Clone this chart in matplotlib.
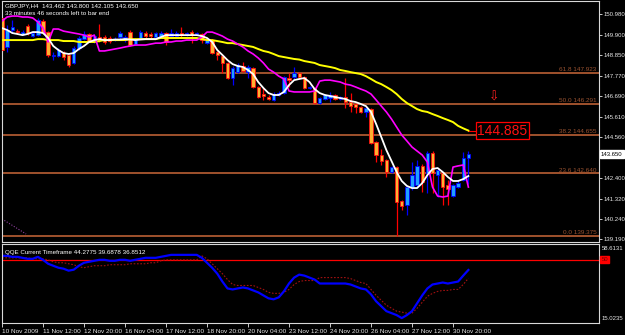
import numpy as np
import matplotlib.pyplot as plt
import matplotlib.font_manager as fm
from matplotlib.transforms import blended_transform_factory

# small MT4-like font, narrow if we have it
names = {f.name for f in fm.fontManager.ttflist}
FONT = 'Liberation Sans Narrow' if 'Liberation Sans Narrow' in names else 'Liberation Sans'
plt.rcParams['font.family'] = FONT
SMALL = 4.3

# ---- data (GBPJPY H4) ----
open_ = [150.79, 149.27, 150.16, 150.10, 149.95, 150.37, 149.84, 149.89, 150.63, 150.05,
         148.79, 148.79, 148.95, 148.85, 148.43, 149.21, 149.68, 149.95, 149.58, 149.79,
         149.79, 149.74, 149.63, 149.79, 149.63, 150.05, 149.42, 149.74, 150.00, 149.95,
         149.79, 149.84, 150.00, 149.84, 149.84, 150.00, 149.95, 150.05, 149.95, 149.95,
         149.47, 149.63, 149.00, 148.79, 148.43, 147.64, 147.95, 148.27, 147.95, 148.16,
         147.17, 146.80, 146.64, 146.49, 146.75, 146.85, 147.64, 147.69, 147.90, 147.69,
         147.12, 147.12, 146.33, 146.54, 146.59, 146.75, 146.54, 146.64, 146.38, 146.28,
         146.12, 145.86, 146.01, 144.28, 143.60, 143.34, 142.71, 142.97, 141.19, 140.98,
         141.92, 142.03, 143.03, 142.66, 143.71, 142.55, 142.66, 142.03, 141.45, 141.92,
         142.29, 143.462]
high = [150.84, 150.42, 150.68, 150.21, 150.16, 150.47, 150.10, 150.79, 150.73, 150.10,
        149.00, 149.21, 149.06, 148.90, 149.32, 149.84, 150.10, 150.00, 149.95, 150.47,
        149.89, 149.84, 149.79, 150.10, 149.89, 150.16, 149.74, 150.16, 150.10, 150.05,
        150.05, 150.10, 150.05, 150.21, 150.10, 150.31, 150.05, 150.16, 150.05, 150.00,
        149.74, 149.68, 149.06, 148.85, 148.48, 148.27, 148.43, 148.48, 148.32, 148.22,
        147.22, 147.12, 146.75, 146.91, 146.96, 147.74, 147.90, 148.22, 147.95, 147.74,
        147.22, 147.17, 146.64, 146.80, 146.91, 146.80, 146.70, 147.64, 146.85, 146.33,
        146.17, 146.12, 146.07, 144.34, 143.92, 143.39, 143.03, 143.03, 141.24, 141.98,
        143.23, 143.34, 143.13, 143.81, 143.81, 142.92, 142.71, 142.29, 142.08, 142.29,
        143.76, 143.800]
low = [149.00, 149.00, 150.00, 149.95, 149.89, 149.89, 149.79, 149.84, 150.00, 148.74,
       148.58, 148.74, 148.58, 148.22, 148.37, 149.11, 149.63, 149.53, 149.47, 149.53,
       149.42, 149.47, 149.58, 149.68, 149.53, 149.32, 149.37, 149.68, 149.74, 149.68,
       149.74, 149.79, 149.37, 149.79, 149.79, 149.79, 149.84, 149.47, 149.89, 149.47,
       149.42, 148.90, 148.58, 147.90, 147.59, 147.27, 147.90, 147.95, 147.64, 147.12,
       146.59, 146.49, 146.49, 146.43, 146.70, 146.80, 147.17, 147.59, 147.64, 147.06,
       147.06, 146.28, 146.28, 146.49, 146.38, 146.49, 146.49, 146.07, 145.86, 145.80,
       145.80, 145.60, 144.18, 143.23, 143.08, 142.45, 142.66, 139.375, 140.72, 140.45,
       141.77, 141.92, 141.66, 141.61, 141.61, 141.40, 140.98, 140.98, 141.40, 141.87,
       142.24, 142.105]
close = [149.11, 150.16, 150.31, 150.05, 150.05, 150.00, 150.00, 150.68, 150.05, 148.85,
         148.85, 149.11, 148.74, 148.32, 149.21, 149.74, 149.95, 149.58, 149.84, 149.63,
         149.53, 149.58, 149.68, 150.00, 149.79, 149.37, 149.63, 150.05, 149.84, 149.84,
         150.00, 150.00, 149.53, 150.00, 150.00, 149.89, 150.00, 149.89, 150.00, 149.63,
         149.68, 148.95, 148.85, 148.43, 147.64, 148.16, 148.32, 148.01, 148.22, 147.17,
         146.64, 146.70, 146.54, 146.80, 146.85, 147.69, 147.53, 147.90, 147.69, 147.12,
         147.17, 146.33, 146.59, 146.75, 146.75, 146.54, 146.64, 146.38, 146.17, 146.12,
         145.86, 146.07, 144.23, 143.60, 143.29, 142.71, 142.97, 141.14, 140.93, 141.92,
         142.55, 143.03, 142.19, 143.71, 142.66, 142.82, 141.92, 141.82, 142.03, 142.13,
         143.44, 143.650]

# white fast MA
ma_fast = [150.26, 150.16, 150.00, 149.95, 149.89, 149.95, 150.05, 150.05, 150.00, 149.74,
           149.32, 149.11, 148.95, 148.90, 148.95, 149.16, 149.32, 149.53, 149.63, 149.68,
           149.63, 149.63, 149.66, 149.66, 149.68, 149.66, 149.63, 149.66, 149.68, 149.68,
           149.68, 149.79, 149.89, 149.89, 149.89, 149.89, 149.89, 149.89, 149.89, 149.84,
           149.74, 149.53, 149.11, 148.85, 148.58, 148.37, 148.27, 148.22, 148.06, 147.85,
           147.43, 147.12, 146.85, 146.75, 146.75, 146.91, 147.27, 147.53, 147.59, 147.64,
           147.43, 147.06, 146.85, 146.75, 146.70, 146.64, 146.59, 146.54, 146.43, 146.38,
           146.28, 146.17, 145.86, 145.23, 144.55, 143.86, 143.29, 142.71, 142.24, 141.98,
           141.87, 141.87, 142.13, 142.55, 142.87, 142.92, 142.71, 142.45, 142.24, 142.24,
           142.34, 142.50]
# magenta stepped MA
ma_step = [150.63, 150.84, 150.89, 150.89, 150.84, 150.84, 150.79, 150.58, 150.26, 149.53,
           150.21, 150.21, 150.10, 150.05, 150.00, 149.95, 149.89, 149.79, 149.89, 149.06,
           149.06, 149.11, 149.16, 149.21, 149.27, 149.32, 149.37, 149.37, 149.37, 149.42,
           149.47, 149.47, 149.53, 149.53, 149.58, 149.58, 149.63, 149.63, 149.63, 149.79,
           150.05, 150.05, 149.95, 149.84, 149.68, 149.58, 149.42, 149.27, 149.06, 148.90,
           148.69, 148.43, 148.11, 147.95, 147.74, 147.59, 146.96, 146.91, 146.91, 146.91,
           146.91, 146.96, 147.48, 147.53, 147.53, 147.48, 147.43, 147.32, 147.27, 147.17,
           147.06, 146.96, 146.80, 146.49, 146.17, 145.86, 145.49, 145.07, 144.65, 144.34,
           144.02, 143.81, 143.60, 143.23, 141.92, 141.45, 141.40, 141.45, 142.97, 143.03,
           143.08, 141.92]
# yellow slow MA
ma_slow = [149.63, 149.63, 149.63, 149.63, 149.63, 149.63, 149.63, 149.68, 149.68, 149.63,
           149.63, 149.63, 149.58, 149.58, 149.58, 149.53, 149.53, 149.53, 149.53, 149.58,
           149.63, 149.63, 149.63, 149.63, 149.63, 149.68, 149.68, 149.68, 149.68, 149.68,
           149.68, 149.74, 149.74, 149.74, 149.74, 149.74, 149.74, 149.74, 149.74, 149.68,
           149.63, 149.63, 149.58, 149.53, 149.47, 149.47, 149.42, 149.37, 149.32, 149.27,
           149.16, 149.06, 149.00, 148.90, 148.79, 148.74, 148.69, 148.64, 148.61, 148.53,
           148.48, 148.43, 148.32, 148.27, 148.22, 148.16, 148.06, 148.01, 147.95, 147.90,
           147.85, 147.74, 147.59, 147.43, 147.32, 147.17, 147.01, 146.80, 146.54, 146.33,
           146.17, 146.01, 145.91, 145.86, 145.75, 145.65, 145.54, 145.44, 145.33, 145.13,
           145.00, 144.885]

# QQE sub-window
qqe_line = [52.07, 52.07, 51.53, 51.53, 50.98, 50.44, 50.44, 51.53, 49.89, 47.71,
            46.62, 45.53, 44.99, 43.90, 44.44, 46.62, 48.26, 48.80, 49.35, 49.89,
            49.89, 49.35, 49.35, 49.89, 49.89, 49.35, 49.89, 50.44, 50.98, 50.98,
            50.98, 51.53, 52.07, 52.62, 52.62, 52.62, 52.62, 52.62, 52.62, 50.98,
            48.26, 45.53, 42.26, 37.90, 34.09, 33.54, 34.09, 34.63, 34.09, 33.00,
            31.91, 30.27, 28.64, 28.09, 29.18, 32.45, 36.81, 40.08, 41.72, 41.17,
            40.08, 38.99, 36.81, 36.81, 36.81, 36.81, 36.81, 36.81, 36.27, 35.18,
            34.09, 33.54, 30.82, 27.00, 24.28, 21.56, 20.47, 19.38, 17.74, 19.38,
            21.56, 25.92, 30.27, 34.09, 36.27, 36.81, 37.36, 36.81, 37.36, 37.90,
            41.17, 44.2775]
qqe_trail = [50.98, 50.98, 50.98, 50.98, 50.98, 50.98, 50.44, 50.44, 50.44, 49.89,
             48.80, 48.26, 48.26, 47.71, 47.17, 46.08, 45.53, 46.08, 46.62, 46.62,
             46.62, 47.17, 47.17, 47.17, 47.17, 47.71, 47.71, 47.71, 47.71, 48.26,
             48.26, 49.35, 49.89, 49.89, 49.89, 49.89, 49.89, 49.89, 49.89, 52.07,
             50.44, 47.71, 44.99, 42.26, 38.99, 36.27, 35.72, 35.72, 35.72, 35.72,
             34.63, 33.54, 31.91, 31.36, 31.36, 31.91, 33.54, 36.27, 37.90, 38.45,
             38.45, 38.45, 40.08, 40.08, 40.08, 40.08, 40.08, 40.08, 39.54, 38.45,
             37.36, 36.81, 33.54, 30.27, 27.56, 24.82, 23.19, 21.56, 21.01, 20.47,
             20.47, 23.19, 26.46, 29.73, 31.36, 32.45, 33.00, 33.00, 33.54, 33.54,
             36.27, 39.6878]
qqe_level = 50

time_labels = ['10 Nov 2009', '11 Nov 12:00', '12 Nov 20:00', '16 Nov 04:00',
               '17 Nov 12:00', '18 Nov 20:00', '20 Nov 04:00', '23 Nov 12:00',
               '24 Nov 20:00', '26 Nov 04:00', '27 Nov 12:00', '30 Nov 20:00']
bars_per_label = 8
price_ticks = [150.98, 149.90, 148.85, 147.77, 146.69, 145.61, 144.56,
               143.48, 142.40, 141.32, 140.24, 139.19]
fib_levels = [61.8, 50.0, 38.2, 23.6, 0.0]
fib_prices = [147.923, 146.291, 144.655, 142.640, 139.375]
ma_label = 144.885
last_price = 143.650
arrow_bar, arrow_price = 96, 146.62
trend_bars = [0, 4.7]
trend_prices = [140.25, 139.46]
qqe_top, qqe_bottom = 58.6131, 15.0235

# ---- figure ----
fig = plt.figure(figsize=(6.25, 3.35), dpi=100, facecolor='black')
ax = fig.add_axes([2/625, 93/335, 597/625, 241/335], facecolor='black')
ax2 = fig.add_axes([2/625, 12/335, 597/625, 79/335], facecolor='black')

x = np.arange(len(close))
o = np.array(open_); c = np.array(close)
h = np.array(high); l = np.array(low)
up = c >= o

# fibo lines
for lvl, p in zip(fib_levels, fib_prices):
    ax.axhline(p, color='#a0522d', lw=1.4, zorder=1)
    ax.text(0.996, p + 0.04, f'{lvl:.1f} {p:.3f}', ha='right', va='bottom',
            color='#9a5230', fontsize=4.6,
            transform=blended_transform_factory(ax.transAxes, ax.transData))
ax.plot(trend_bars, trend_prices, ls=(0, (1, 1.5)), color='#9040a0', lw=0.8)

# candles
wick_col = np.where(up, '#0000ff', '#ff0000')
ax.vlines(x, l, h, colors=wick_col, lw=0.9, zorder=2)
body_lo = np.minimum(o, c)
body_h = np.maximum(np.abs(c - o), 0.02)
ax.bar(x[up], body_h[up], bottom=body_lo[up], width=0.66,
       color='#1ea0ff', edgecolor='#0000ff', lw=0.6, zorder=3)
ax.bar(x[~up], body_h[~up], bottom=body_lo[~up], width=0.66,
       color='#ffb030', edgecolor='#ff1010', lw=0.6, zorder=3)

# moving averages
ax.plot(x, ma_slow, color='#ffff00', lw=1.4, zorder=4)
ax.plot(x, ma_step, color='#ff00ff', lw=1.2, zorder=4)
ax.plot(x, ma_fast, color='white', lw=1.3, zorder=5)

# price label of slow MA
ax.plot([x[-1], x[-1] + 1.6], [ma_label, ma_label], color='#ff0000', lw=0.8)
ax.text(x[-1] + 1.7, ma_label, f'{ma_label:.3f}', ha='left', va='center',
        color='#ff1010', fontsize=10,
        bbox=dict(boxstyle='square,pad=0.1', fc='black', ec='#ff0000', lw=0.9))
ax.text(arrow_bar, arrow_price, '\u21e9', ha='center', va='center',
        color='#ff2020', fontsize=9, family='DejaVu Sans')

ax.set_xlim(0, 597 / 5.125)
ax.set_ylim(139.04, 151.68)
ax.set_xticks([])
ax.yaxis.tick_right()
ax.set_yticks(price_ticks)
ax.set_yticklabels([f'{p:.3f}' for p in price_ticks])
ax.tick_params(axis='y', colors='#e8e8e8', labelsize=SMALL, length=2, width=0.6, pad=1.5)
ax.text(1.003, last_price, f'{last_price:.3f}', ha='left', va='center', color='black',
        fontsize=SMALL, transform=blended_transform_factory(ax.transAxes, ax.transData),
        bbox=dict(boxstyle='square,pad=0.2', fc='white', ec='white'), clip_on=False)

# header
fig.text(5/625, 1 - 6/335, 'GBPJPY,H4  143.462 143.800 142.105 143.650',
         color='white', fontsize=4.5, va='center')
fig.text(5/625, 1 - 13.5/335, '33 minutes 46 seconds left to bar end',
         color='white', fontsize=4.5, va='center')

# ---- QQE pane ----
ax2.axhline(qqe_level, color='#ff0000', lw=0.9)
ax2.plot(x, qqe_trail, color='#a01010', lw=0.8, ls=(0, (1.5, 1.5)))
ax2.plot(x, qqe_line, color='#0000ff', lw=1.6)
ax2.set_xlim(0, 597 / 5.125)
ax2.set_ylim(qqe_bottom, qqe_top)
ax2.set_yticks([])
ticks = np.arange(len(time_labels)) * bars_per_label
ax2.set_xticks(ticks)
ax2.set_xticklabels(time_labels)
for lbl in ax2.get_xticklabels():
    lbl.set_ha('left')
ax2.tick_params(axis='x', colors='#e8e8e8', labelsize=4.6, length=3, width=0.6, pad=1)
ax2.text(0.005, 0.93, 'QQE Current Timeframe 44.2775 39.6878 36.8512',
         color='white', fontsize=4.5, va='top', transform=ax2.transAxes)
ax2.text(1.005, 0.97, f'{qqe_top}', color='#e8e8e8', fontsize=SMALL, va='top',
         transform=ax2.transAxes, clip_on=False)
ax2.text(1.005, 0.03, f'{qqe_bottom}', color='#e8e8e8', fontsize=SMALL, va='bottom',
         transform=ax2.transAxes, clip_on=False)
ax2.text(1.004, qqe_level, '50', color='#700000', fontsize=SMALL, va='center',
         transform=blended_transform_factory(ax2.transAxes, ax2.transData),
         bbox=dict(boxstyle='square,pad=0.15', fc='#ff0000', ec='#ff0000'), clip_on=False)

for a in (ax, ax2):
    for s in a.spines.values():
        s.set_color('#d8d8d8')
        s.set_linewidth(0.8)

fig.savefig('out.png', dpi=100, facecolor='black')
